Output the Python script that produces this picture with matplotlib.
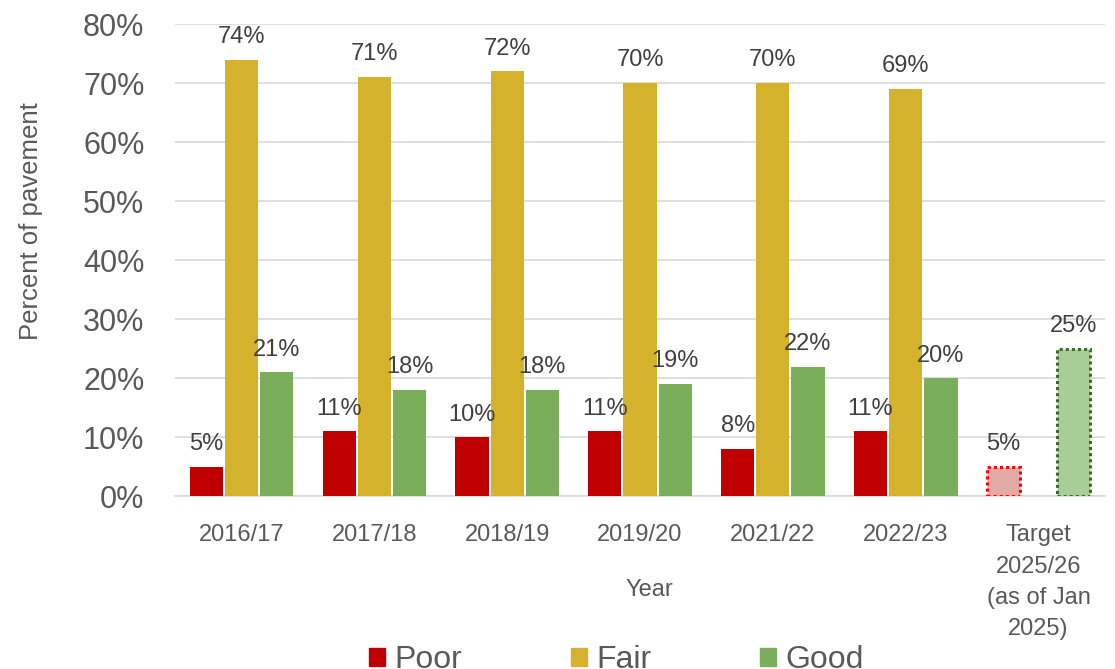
import matplotlib
matplotlib.use('Agg')

import matplotlib.pyplot as plt
import numpy as np
from matplotlib.patches import Patch

# Data
years = ["2016/17", "2017/18", "2018/19", "2019/20", "2021/22", "2022/23",
         "Target\n2025/26\n(as of Jan\n2025)"]
poor = [5, 11, 10, 11, 8, 11, 5]
fair = [74, 71, 72, 70, 70, 69, None]
good = [21, 18, 18, 19, 22, 20, 25]

c_poor = "#C00000"
c_fair = "#D4B22B"
c_good = "#7BAE5B"
txt = "#595959"

plt.rcParams['font.family'] = ['Liberation Sans', 'DejaVu Sans']

fig = plt.figure(figsize=(11.15, 6.69), dpi=100)
ax = fig.add_axes([0.157, 0.258, 0.834, 0.706])

ind = np.arange(len(years))
width = 0.25
step = 0.265

n = len(years) - 1  # regular years
ax.bar(ind[:n] - step, poor[:n], width, color=c_poor, zorder=3)
ax.bar(ind[:n], fair[:n], width, color=c_fair, zorder=3)
ax.bar(ind[:n] + step, good[:n], width, color=c_good, zorder=3)

# target bars, dotted outline
ax.bar(ind[n] - step, poor[n], width, color="#E2AAA6", edgecolor="#FF0000",
       linestyle=(0, (1, 1)), linewidth=2.2, zorder=3)
ax.bar(ind[n] + step, good[n], width, color="#A9CD97", edgecolor="#3B6B2A",
       linestyle=(0, (1, 1)), linewidth=2.2, zorder=3)

# data labels
for i in range(len(years)):
    for off, vals in ((-step, poor), (0, fair), (step, good)):
        v = vals[i]
        if v is None:
            continue
        ax.text(ind[i] + off, v + 2.0, "%d%%" % v, ha='center', va='bottom',
                fontsize=17, color="#404040")

ax.set_ylim(0, 80)
ax.set_xlim(-0.5, len(years) - 0.5)
ax.set_yticks(range(0, 81, 10))
ax.set_yticklabels(["%d%%" % v for v in range(0, 81, 10)], fontsize=22, color=txt)
ax.set_xticks(ind)
ax.set_xticklabels(years, fontsize=17, color=txt, linespacing=1.55)
ax.tick_params(axis='y', length=0, pad=22)
ax.tick_params(axis='x', length=0, pad=20)

ax.grid(axis='y', color="#D9D9D9", linewidth=1.2, zorder=0)
for s in ("top", "right", "left"):
    ax.spines[s].set_visible(False)
ax.spines["bottom"].set_color("#D9D9D9")
ax.spines["bottom"].set_linewidth(1.2)

ax.set_ylabel("Percent of pavement", fontsize=18.5, color=txt)
ax.yaxis.set_label_coords(-0.142, 0.583)
ax.set_xlabel("Year", fontsize=17, color=txt)
ax.xaxis.set_label_coords(0.51, -0.175)

# legend sits at the very bottom edge, as in the original
handles = [Patch(color=c_poor), Patch(color=c_fair), Patch(color=c_good)]
fig.legend(handles, ["Poor", "Fair", "Good"], loc='center',
           bbox_to_anchor=(0.553, 0.013), ncol=3, frameon=False,
           fontsize=23, handlelength=0.5, handleheight=0.5,
           handletextpad=0.3, columnspacing=3.4, labelcolor=txt)

plt.savefig("out.png", dpi=100)
